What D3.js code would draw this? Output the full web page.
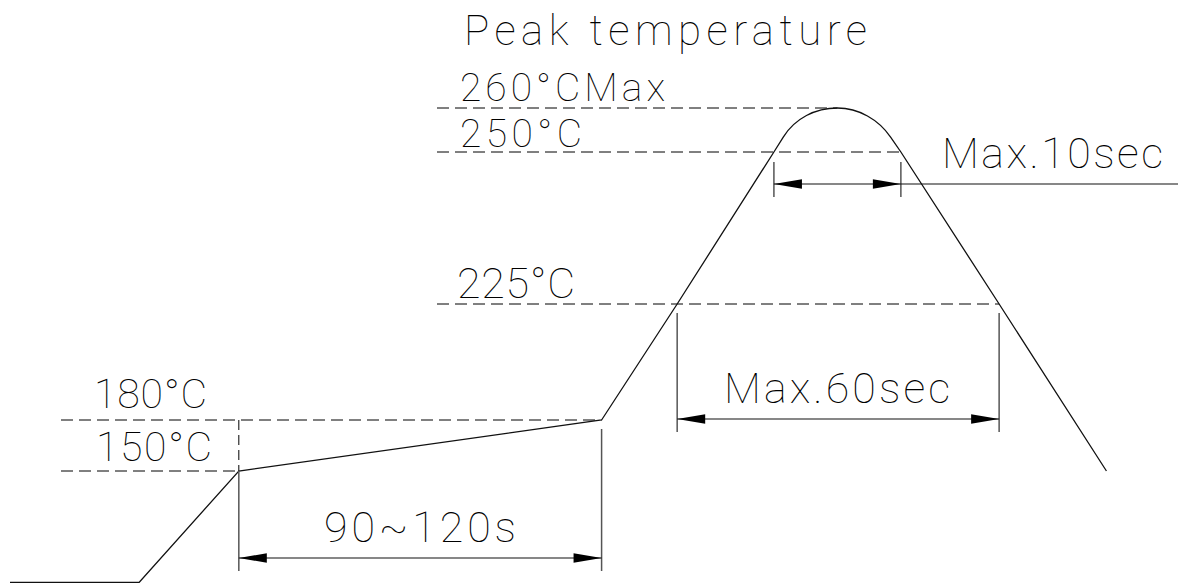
<!DOCTYPE html>
<html>
<head>
<meta charset="utf-8">
<script src="https://cdn.jsdelivr.net/npm/d3@7"></script>
<style>
  html, body { margin: 0; padding: 0; background: #fff; }
  svg { display: block; }
  text { font-family: Roboto, "Lato", "DejaVu Sans", sans-serif; font-weight: 100; fill: #000;
         -webkit-font-smoothing: antialiased; }
</style>
</head>
<body>
<svg id="chart" width="1179" height="583"></svg>
<script>
// ---- data (time in s, temperature in °C) ----
const profileTimes = [3.3, 46, 79, 199, 224, 256, 259.1, 277, 294.6, 298, 330.5, 366];
const profileTemps = [25, 25, 150, 180, 225, 250, 253.4, 260, 253.4, 250, 225, 150];
const peakIndex = 7;            // index of peak point (rounded region 6..8)

const tempLevels = [150, 180, 225, 250, 260];
const tempLabels = ["150°C", "180°C", "225°C", "250°C", "260°CMax"];
const levelEndTimes = [79, 199, 330.5, 298, 277];

const dimSoak  = { from: 79,  to: 199,   label: "90~120s" };
const dim225   = { from: 224, to: 330.5, label: "Max.60sec" };
const dim250   = { from: 256, to: 298,   label: "Max.10sec" };
const titleText = "Peak temperature";

// ---- scales ----
const x = d3.scaleLinear().domain([0, 390]).range([0, 1179]);
// schematic (not to scale) temperature axis: piecewise linear
const y = d3.scaleLinear().domain([25, 150, 180, 225, 250, 260]).range([582.5, 471, 420, 304, 152, 108]);

const svg = d3.select("#chart");
const pts = profileTimes.map((t, i) => [x(t), y(profileTemps[i])]);

// ---- dashed level lines ----
const dash = "12,6";
const levelStartX = { 150: 61, 180: 61, 225: 437, 250: 437, 260: 437 };
tempLevels.forEach((T, i) => {
  svg.append("line")
    .attr("x1", levelStartX[T]).attr("x2", x(levelEndTimes[i]))
    .attr("y1", y(T)).attr("y2", y(T))
    .attr("stroke", "#000").attr("stroke-width", 1).attr("stroke-dasharray", dash);
});
// vertical dashed between 180 and 150 at soak start
svg.append("line")
  .attr("x1", x(dimSoak.from)).attr("x2", x(dimSoak.from))
  .attr("y1", y(180)).attr("y2", y(150))
  .attr("stroke", "#000").attr("stroke-width", 1).attr("stroke-dasharray", "10,5");

// ---- profile path (straight ramps, circular-ish dome at the peak) ----
const p = d3.path();
p.moveTo(pts[0][0], pts[0][1]);
for (let i = 1; i <= peakIndex - 1; i++) p.lineTo(pts[i][0], pts[i][1]);
function unit(a, b) { const dx = b[0] - a[0], dy = b[1] - a[1]; const l = Math.hypot(dx, dy); return [dx / l, dy / l]; }
function ctrlLen(dir, chordX) {
  const th = Math.acos(Math.abs(dir[0]));
  const R = chordX / Math.sin(th);
  return 4 / 3 * Math.tan(th / 4) * R;
}
const s = pts[peakIndex - 1], pk = pts[peakIndex], e = pts[peakIndex + 1];
const d1 = unit(pts[peakIndex - 2], s);
const d2 = unit(e, pts[peakIndex + 2]);
const kL = ctrlLen(d1, pk[0] - s[0]), kR = ctrlLen(d2, e[0] - pk[0]);
p.bezierCurveTo(s[0] + d1[0] * kL, s[1] + d1[1] * kL, pk[0] - kL, pk[1], pk[0], pk[1]);
p.bezierCurveTo(pk[0] + kR, pk[1], e[0] - d2[0] * kR, e[1] - d2[1] * kR, e[0], e[1]);
for (let i = peakIndex + 2; i < pts.length; i++) p.lineTo(pts[i][0], pts[i][1]);
svg.append("path").attr("d", p.toString())
  .attr("fill", "none").attr("stroke", "#111").attr("stroke-width", 1.3);

// ---- dimension helpers ----
function arrowHead(xTip, yy, dir) {
  const L = 28, H = 4.8;
  svg.append("path")
    .attr("d", `M${xTip},${yy}L${xTip + dir * L},${yy - H}L${xTip + dir * L},${yy + H}Z`)
    .attr("fill", "#000");
}
function dimension(d, yLine, extTopL, extTopR, extBottom, labelY, labelX, labelW) {
  const xa = x(d.from), xb = x(d.to);
  svg.append("line").attr("x1", xa).attr("x2", xa).attr("y1", extTopL).attr("y2", extBottom)
    .attr("stroke", "#555").attr("stroke-width", 1.5);
  svg.append("line").attr("x1", xb).attr("x2", xb).attr("y1", extTopR).attr("y2", extBottom)
    .attr("stroke", "#555").attr("stroke-width", 1.5);
  svg.append("line").attr("x1", xa).attr("x2", xb).attr("y1", yLine).attr("y2", yLine)
    .attr("stroke", "#111").attr("stroke-width", 1.2);
  arrowHead(xa, yLine, 1);
  arrowHead(xb, yLine, -1);
  svg.append("text").attr("x", labelX).attr("y", labelY)
    .attr("font-size", 43).attr("textLength", labelW).attr("lengthAdjust", "spacing")
    .text(d.label);
}

dimension(dimSoak, 558, y(150), 429, 571, 542, 324, 192);
dimension(dim225, 419, 313, 313, 432, 403, 724, 226);
dimension(dim250, 184, 162, 162, 197, 168, 942, 221);
// extension of the Max.10sec leader to the right
svg.append("line").attr("x1", x(dim250.to)).attr("x2", 1178).attr("y1", 184).attr("y2", 184)
  .attr("stroke", "#111").attr("stroke-width", 1.2);

// ---- temperature labels ----
const labelPos = {
  150: [96, 461, 116, 41],
  180: [94, 408, 113, 41],
  225: [457, 298, 118, 43],
  250: [460, 147, 122, 39],
  260: [460, 101, 205, 39]
};
tempLevels.forEach((T, i) => {
  const [lx, ly, lw, fs] = labelPos[T];
  svg.append("text").attr("x", lx).attr("y", ly)
    .attr("font-size", fs).attr("textLength", lw).attr("lengthAdjust", "spacing")
    .text(tempLabels[i]);
});

// ---- title ----
svg.append("text").attr("x", 464).attr("y", 45)
  .attr("font-size", 42).attr("textLength", 403).attr("lengthAdjust", "spacing")
  .text(titleText);
</script>
</body>
</html>
